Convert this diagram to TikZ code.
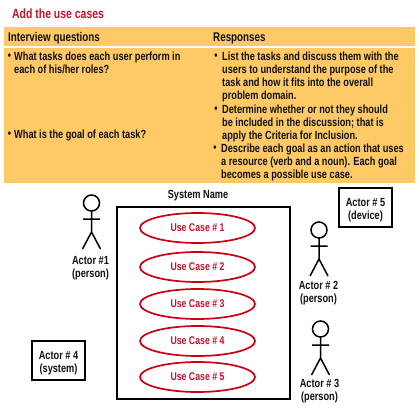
\documentclass[tikz,border=0pt]{standalone}
\usepackage{fontspec}
\setmainfont[FakeStretch=0.78,BoldFont={Liberation Sans Bold}]{Liberation Sans}
\usetikzlibrary{shapes.geometric}
\definecolor{band}{HTML}{FFC966}
\definecolor{redtxt}{HTML}{C8102E}
\definecolor{redline}{HTML}{CC0011}
\definecolor{ink}{HTML}{111111}
\newcommand{\uclabel}[1]{\raisebox{-1pt}{#1}}
\tikzset{
  body/.style={font=\fontsize{11.8}{13}\selectfont\bfseries,text=ink,inner sep=0pt,align=left},
  bul/.style={body,anchor=center},
  para/.style={body,anchor=north west},
  lab/.style={font=\fontsize{11.8}{13}\selectfont\bfseries,text=ink,inner sep=0pt,align=center},
  usecase/.style={ellipse,draw=redline,line width=1.7pt,fill=white,minimum width=115pt,minimum height=30pt,inner sep=0pt,text=redtxt,font=\fontsize{11.2}{12}\selectfont\bfseries},
  sysbox/.style={draw=black,line width=1.7pt,fill=white},
  actorbox/.style={draw=black,line width=1.7pt,fill=white,lab,minimum width=53pt,minimum height=39pt},
  pics/stick/.style={code={
    \draw[line width=1.5pt,black] (0,0) circle (8);
    \draw[line width=1.5pt,black] (0,8) -- (0,29) (-8.5,16) -- (8.5,16) (-9,46) -- (0,29) -- (9,46);
  }}
}
\begin{document}
\begin{tikzpicture}[x=1pt,y=-1pt]
\useasboundingbox (0,0) rectangle (420,420);
\fill[white] (0,0) rectangle (420,420);
\node[anchor=west,inner sep=0pt,text=redtxt,font=\fontsize{13.4}{15}\selectfont\bfseries] (title) at (12,14) {Add the use cases};
\fill[band] (4,27) rectangle (415,183);
\fill[white] (4,46) rectangle (415,48);
\node[body,anchor=west,font=\fontsize{12.6}{13}\selectfont\bfseries] (h1) at (8,38) {Interview questions};
\node[body,anchor=west,font=\fontsize{12.6}{13}\selectfont\bfseries] (h2) at (213,38) {Responses};
\node[bul] (b1) at (9.5,56.5) {\textbullet};
\node[para] (q1) at (14,51.5) {What tasks does each user perform in\\each of his/her roles?};
\node[bul] (b2) at (9.5,134.5) {\textbullet};
\node[para] (q2) at (14,129.5) {What is the goal of each task?};
\node[bul] (b3) at (216,56.5) {\textbullet};
\node[para] (r1) at (222,51.5) {List the tasks and discuss them with the\\users to understand the purpose of the\\task and how it fits into the overall\\problem domain.};
\node[bul] (b4) at (216,109.5) {\textbullet};
\node[para] (r2) at (222,104.5) {Determine whether or not they should\\be included in the discussion; that is\\apply the Criteria for Inclusion.};
\node[bul] (b5) at (215,148.5) {\textbullet};
\node[para] (r3) at (221,143.5) {Describe each goal as an action that uses\\a resource (verb and a noun). Each goal\\becomes a possible use case.};
\node[lab] (sn) at (198,195.5) {System Name};
\draw[sysbox] (117,207) rectangle (290,399);
\node[usecase] (u1) at (197.5,228) {\uclabel{Use Case \# 1}};
\node[usecase] (u2) at (197.5,267) {\uclabel{Use Case \# 2}};
\node[usecase] (u3) at (197.5,304) {\uclabel{Use Case \# 3}};
\node[usecase] (u4) at (197.5,341) {\uclabel{Use Case \# 4}};
\node[usecase] (u5) at (197.5,377) {\uclabel{Use Case \# 5}};
\pic at (91.5,203) {stick};
\node[lab] (a1) at (90.5,268) {Actor \#1\\(person)};
\pic at (319,230) {stick};
\node[lab] (a2) at (318.5,293) {Actor \# 2\\(person)};
\pic at (320.5,329) {stick};
\node[lab] (a3) at (319.5,391) {Actor \# 3\\(person)};
\node[actorbox] (a4) at (58.5,360.5) {\rule{0pt}{13pt}Actor \# 4\\(system)};
\node[actorbox] (a5) at (365.5,207.5) {\rule{0pt}{13pt}Actor \# 5\\(device)};
\end{tikzpicture}
\end{document}
